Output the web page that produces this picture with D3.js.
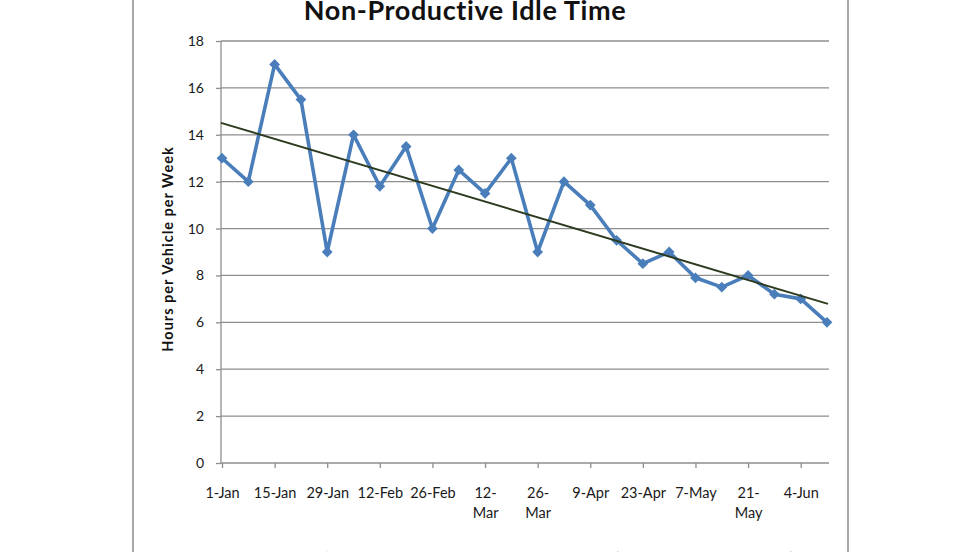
<!DOCTYPE html>
<html><head><meta charset="utf-8">
<script src="https://cdn.jsdelivr.net/npm/d3@7"></script>
<style>
html,body{margin:0;padding:0;background:#fff;}
svg{display:block;}
text{font-family:Lato,"Open Sans",sans-serif;}
</style></head>
<body>
<svg id="chart" width="980" height="552"></svg>
<script>
// ---- data ----
const weeks = ["1-Jan","8-Jan","15-Jan","22-Jan","29-Jan","5-Feb","12-Feb","19-Feb","26-Feb","5-Mar","12-Mar","19-Mar","26-Mar","2-Apr","9-Apr","16-Apr","23-Apr","30-Apr","7-May","14-May","21-May","28-May","4-Jun","11-Jun"];
const hours = [13,12,17,15.5,9,14,11.8,13.5,10,12.5,11.5,13,9,12,11,9.5,8.5,9,7.9,7.5,8,7.2,7,6];
const tickLabels = ["1-Jan","15-Jan","29-Jan","12-Feb","26-Feb","12-\nMar","26-\nMar","9-Apr","23-Apr","7-May","21-\nMay","4-Jun"];
const yTicks = [0,2,4,6,8,10,12,14,16,18];
const title = "Non-Productive Idle Time";
const yTitle = "Hours per Vehicle per Week";
const seriesName = "Hours per Vehicle per Week";

const svg = d3.select("#chart");

// chart area border
svg.append("rect").attr("x",133).attr("y",-5).attr("width",715).attr("height",570)
  .attr("fill","#fff").attr("stroke","#8c8c8c").attr("stroke-width",1.5);

const x = d3.scaleLinear().domain([0, weeks.length-1]).range([222, 827]);
const y = d3.scaleLinear().domain([0,18]).range([463, 41]);

// gridlines
svg.append("g").selectAll("line").data(yTicks.filter(d=>d>0)).join("line")
  .attr("x1",221).attr("x2",829).attr("y1",d=>y(d)).attr("y2",d=>y(d))
  .attr("stroke","#8e8e8e").attr("stroke-width",1.3);

// y axis
const yAxis = d3.axisLeft(y).tickValues(yTicks).tickSize(5).tickPadding(12).tickFormat(d3.format("d"));
const gy = svg.append("g").attr("transform","translate(221,0)").call(yAxis);
gy.select(".domain").attr("stroke","#8e8e8e").attr("stroke-width",1.3).attr("d","M0,41V463");
gy.selectAll(".tick line").attr("stroke","#8e8e8e").attr("stroke-width",1.3);
gy.selectAll(".tick text").attr("font-size",14).attr("fill","#1a1a1a").attr("font-family","Lato,sans-serif");

// x axis
const tickIdx = tickLabels.map((d,i)=>i*2);
const xAxis = d3.axisBottom(x).tickValues(tickIdx).tickSize(5).tickFormat("");
const gx = svg.append("g").attr("transform","translate(0,463)").call(xAxis);
gx.select(".domain").attr("stroke","#8e8e8e").attr("stroke-width",1.3).attr("d","M221,0H829");
gx.selectAll(".tick line").attr("stroke","#8e8e8e").attr("stroke-width",1.3);
gx.selectAll(".tick").each(function(d,i){
  const lines = tickLabels[i].split("\n");
  const t = d3.select(this).append("text").attr("fill","#1a1a1a").attr("font-size",14.5)
    .attr("text-anchor","middle").attr("y",35);
  lines.forEach((l,j)=>t.append("tspan").attr("x",0).attr("dy",j?20:0).text(l));
});

// trend line (least squares)
const n = hours.length;
const mx = d3.mean(hours,(d,i)=>i), my = d3.mean(hours);
const slope = d3.sum(hours,(d,i)=>(i-mx)*(d-my)) / d3.sum(hours,(d,i)=>(i-mx)*(i-mx));
const icpt = my - slope*mx;

// series line
const line = d3.line().x((d,i)=>x(i)).y(d=>y(d));
svg.append("path").datum(hours).attr("d",line).attr("fill","none")
  .attr("stroke","#4a7ebb").attr("stroke-width",3.6).attr("stroke-linejoin","round");

const sym = d3.symbol().type(d3.symbolSquare).size(58);
svg.append("g").selectAll("path").data(hours).join("path")
  .attr("d",sym).attr("transform",(d,i)=>`translate(${x(i)},${y(d)}) rotate(45)`)
  .attr("fill","#4a7ebb");

svg.append("line")
  .attr("x1",x(0)-1).attr("y1",y(icpt+slope*(-1/ (x(1)-x(0)))))
  .attr("x2",x(n-1)+1).attr("y2",y(icpt+slope*(n-1)))
  .attr("stroke","#2c3a1e").attr("stroke-width",2);

// title
svg.append("text").attr("x",465).attr("y",20).attr("text-anchor","middle")
  .attr("font-size",27).attr("font-weight","bold").attr("letter-spacing",0.6)
  .attr("fill","#111").text(title);

// y title
svg.append("text").attr("transform","translate(173,249) rotate(-90)")
  .attr("text-anchor","middle").attr("font-size",14.5).attr("font-weight","bold")
  .attr("letter-spacing",1).attr("fill","#111").text(yTitle);

// legend (mostly cropped, as in the reference)
const lg = svg.append("g").attr("transform","translate(0,562)");
lg.append("line").attr("x1",308).attr("x2",346).attr("y1",-5).attr("y2",-5).attr("stroke","#4a7ebb").attr("stroke-width",3.6);
lg.append("path").attr("d",sym).attr("transform","translate(327,-5) rotate(45)").attr("fill","#4a7ebb");
lg.append("text").attr("x",352).attr("y",0).attr("font-size",14).attr("fill","#1a1a1a").text(seriesName);
lg.append("line").attr("x1",530).attr("x2",568).attr("y1",-5).attr("y2",-5).attr("stroke","#2c3a1e").attr("stroke-width",2);
lg.append("text").attr("x",574).attr("y",0).attr("font-size",14).attr("fill","#1a1a1a").text("Linear (" + seriesName + ")");
</script>
</body></html>
